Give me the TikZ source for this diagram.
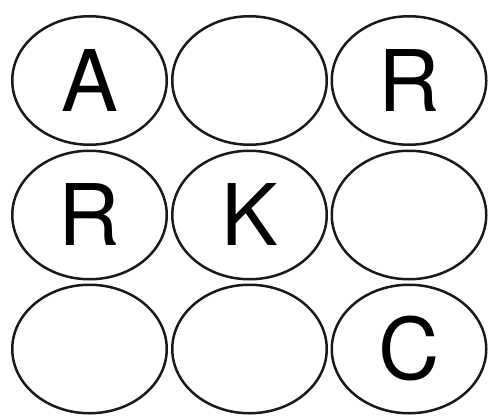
\documentclass[tikz,border=0pt]{standalone}
\usepackage{fontspec}
\setmainfont{TeX Gyre Heros}
\usetikzlibrary{shapes.geometric}

\tikzset{
  cell/.style={ellipse,draw=black!90,line width=2.5pt,inner sep=0pt,
    minimum width=154.5pt,minimum height=128.5pt,
    font=\fontsize{85}{85}\selectfont}
}

\begin{document}
\begin{tikzpicture}[x=1pt,y=-1pt,line cap=round,line join=round]
\path[use as bounding box] (0,0) rectangle (489,417);
\foreach \col/\row/\lbl [count=\i] in {
  89.5/80.5/A, 249.5/80.5/{}, 409/80.5/R,
  89.5/215/R,  249.5/215/K,   409/215/{},
  89.5/349/{}, 249.5/349/{},  409/349/C}
  \node[cell] (cell\i) at (\col,\row) {\lbl};
\end{tikzpicture}
\end{document}
